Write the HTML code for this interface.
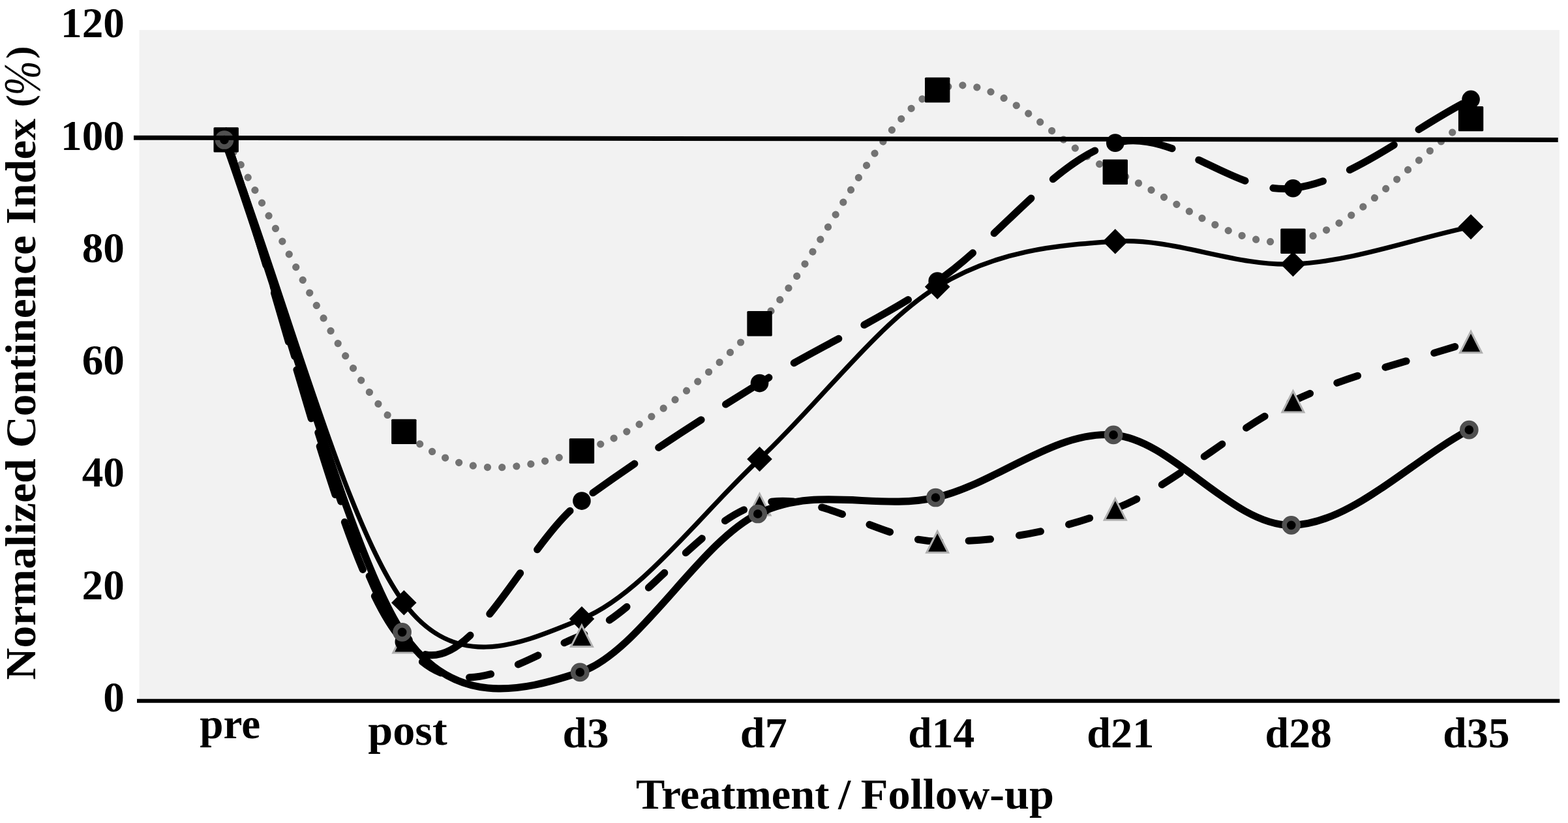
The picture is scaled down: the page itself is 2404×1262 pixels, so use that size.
<!DOCTYPE html>
<html lang="en"><head><meta charset="utf-8"><title>Normalized Continence Index</title>
<style>html,body{margin:0;padding:0;background:#fff;}body{width:2404px;height:1262px;overflow:hidden;}svg{display:block;}text{font-family:"Liberation Serif",serif;font-weight:bold;fill:#000;}</style></head><body>
<svg width="2404" height="1262" viewBox="0 0 2404 1262">
<rect x="0" y="0" width="2404" height="1262" fill="#fff"/>
<rect x="213.5" y="46" width="2177.3" height="1029" fill="#f2f2f2"/>
<line x1="210" y1="1074.7" x2="2391.3" y2="1074.7" stroke="#000" stroke-width="6"/>
<g id="series-diamonds">
<path d="M346.67 214.40 C437.55 451.03 528.42 801.85 619.30 924.30 C700.87 1034.21 801.05 985.82 891.93 949.10 C982.81 912.38 1073.68 788.91 1164.56 704.00 C1255.44 619.09 1346.31 495.28 1437.19 439.65 C1528.07 384.02 1618.94 375.97 1709.82 370.20 C1800.70 364.43 1891.57 408.73 1982.45 405.00 C2073.33 401.27 2164.20 366.90 2255.08 347.85" fill="none" stroke="#000" stroke-width="7.2" stroke-linejoin="round"/>
<path d="M346.67 195.10 l19.3 19.3 l-19.3 19.3 l-19.3 -19.3 z" fill="#000"/>
<path d="M619.30 905.00 l19.3 19.3 l-19.3 19.3 l-19.3 -19.3 z" fill="#000"/>
<path d="M891.93 929.80 l19.3 19.3 l-19.3 19.3 l-19.3 -19.3 z" fill="#000"/>
<path d="M1164.56 684.70 l19.3 19.3 l-19.3 19.3 l-19.3 -19.3 z" fill="#000"/>
<path d="M1437.19 420.35 l19.3 19.3 l-19.3 19.3 l-19.3 -19.3 z" fill="#000"/>
<path d="M1709.82 350.90 l19.3 19.3 l-19.3 19.3 l-19.3 -19.3 z" fill="#000"/>
<path d="M1982.45 385.70 l19.3 19.3 l-19.3 19.3 l-19.3 -19.3 z" fill="#000"/>
<path d="M2255.08 328.55 l19.3 19.3 l-19.3 19.3 l-19.3 -19.3 z" fill="#000"/>
</g>
<g id="series-triangles">
<path d="M346.67 214.40 C437.55 470.93 528.42 857.35 619.30 984.00 C698.82 1094.82 801.05 1009.50 891.93 974.30 C982.81 939.10 1073.68 796.82 1164.56 772.80 C1255.44 748.78 1346.31 828.96 1437.19 830.20 C1528.07 831.44 1618.94 816.13 1709.82 780.25 C1800.70 744.37 1891.57 657.66 1982.45 614.90 C2073.33 572.14 2164.20 554.10 2255.08 523.70" fill="none" stroke="#000" stroke-width="11.13" stroke-linecap="round" stroke-dasharray="33.39 44.52" stroke-dashoffset="-3"/>
<path d="M346.67 199.00 l16.5 32.5 h-33 z" fill="#000" stroke="#b0b0b0" stroke-width="3" stroke-linejoin="miter"/>
<path d="M619.30 968.60 l16.5 32.5 h-33 z" fill="#000" stroke="#b0b0b0" stroke-width="3" stroke-linejoin="miter"/>
<path d="M891.93 958.90 l16.5 32.5 h-33 z" fill="#000" stroke="#b0b0b0" stroke-width="3" stroke-linejoin="miter"/>
<path d="M1164.56 757.40 l16.5 32.5 h-33 z" fill="#000" stroke="#b0b0b0" stroke-width="3" stroke-linejoin="miter"/>
<path d="M1437.19 814.80 l16.5 32.5 h-33 z" fill="#000" stroke="#b0b0b0" stroke-width="3" stroke-linejoin="miter"/>
<path d="M1709.82 764.85 l16.5 32.5 h-33 z" fill="#000" stroke="#b0b0b0" stroke-width="3" stroke-linejoin="miter"/>
<path d="M1982.45 599.50 l16.5 32.5 h-33 z" fill="#000" stroke="#b0b0b0" stroke-width="3" stroke-linejoin="miter"/>
<path d="M2255.08 508.30 l16.5 32.5 h-33 z" fill="#000" stroke="#b0b0b0" stroke-width="3" stroke-linejoin="miter"/>
</g>
<g id="series-squares">
<path d="M346.67 214.40 C437.55 363.57 528.42 582.39 619.30 661.90 C710.18 741.41 801.05 719.07 891.93 691.45 C982.81 663.83 1073.68 588.43 1164.56 496.20 C1255.44 403.97 1346.31 176.79 1437.19 138.05 C1528.07 99.31 1618.94 225.12 1709.82 263.75 C1800.70 302.38 1891.57 383.41 1982.45 369.80 C2073.33 356.19 2164.20 244.67 2255.08 182.10" fill="none" stroke="#737373" stroke-width="11.2" stroke-linecap="round" stroke-dasharray="0.01 22.25"/>
<rect x="327.47" y="195.20" width="38.4" height="38.4" rx="1.5" fill="#000"/>
<rect x="600.10" y="642.70" width="38.4" height="38.4" rx="1.5" fill="#000"/>
<rect x="872.73" y="672.25" width="38.4" height="38.4" rx="1.5" fill="#000"/>
<rect x="1145.36" y="477.00" width="38.4" height="38.4" rx="1.5" fill="#000"/>
<rect x="1417.99" y="118.85" width="38.4" height="38.4" rx="1.5" fill="#000"/>
<rect x="1690.62" y="244.55" width="38.4" height="38.4" rx="1.5" fill="#000"/>
<rect x="1963.25" y="350.60" width="38.4" height="38.4" rx="1.5" fill="#000"/>
<rect x="2235.88" y="162.90" width="38.4" height="38.4" rx="1.5" fill="#000"/>
</g>
<g id="series-circles">
<path d="M346.67 214.40 C437.55 470.93 528.42 891.72 619.30 984.00 C710.18 1076.28 801.05 834.17 891.93 768.10 C982.81 702.03 1073.68 643.78 1164.56 587.60 C1255.44 531.42 1346.31 492.41 1437.19 431.00 C1528.07 369.59 1618.94 242.87 1709.82 219.15 C1800.70 195.43 1891.57 299.82 1982.45 288.70 C2073.33 277.57 2164.20 197.83 2255.08 152.40" fill="none" stroke="#000" stroke-width="11.13" stroke-linecap="round" stroke-dasharray="77.91 44.52" stroke-dashoffset="-1.5"/>
<circle cx="346.67" cy="214.40" r="13.8" fill="#000"/>
<circle cx="619.30" cy="984.00" r="13.8" fill="#000"/>
<circle cx="891.93" cy="768.10" r="13.8" fill="#000"/>
<circle cx="1164.56" cy="587.60" r="13.8" fill="#000"/>
<circle cx="1437.19" cy="431.00" r="13.8" fill="#000"/>
<circle cx="1709.82" cy="219.15" r="13.8" fill="#000"/>
<circle cx="1982.45" cy="288.70" r="13.8" fill="#000"/>
<circle cx="2255.08" cy="152.40" r="13.8" fill="#000"/>
</g>
<g id="series-rings">
<path d="M343.95 214.50 C434.83 466.10 538.96 853.09 616.58 969.30 C694.20 1085.51 798.33 1061.12 889.21 1030.90 C980.09 1000.68 1070.96 832.65 1161.84 788.00 C1252.72 743.35 1343.59 783.18 1434.47 763.00 C1525.35 742.82 1616.22 659.85 1707.10 666.90 C1797.98 673.95 1888.85 806.60 1979.73 805.30 C2070.61 804.00 2161.48 707.83 2252.36 659.10" fill="none" stroke="#000" stroke-width="11.13" stroke-linejoin="round"/>
<circle cx="343.95" cy="214.50" r="10.6" fill="#000" stroke="#505050" stroke-width="7.5"/>
<circle cx="616.58" cy="969.30" r="10.6" fill="#000" stroke="#505050" stroke-width="7.5"/>
<circle cx="889.21" cy="1030.90" r="10.6" fill="#000" stroke="#505050" stroke-width="7.5"/>
<circle cx="1161.84" cy="788.00" r="10.6" fill="#000" stroke="#505050" stroke-width="7.5"/>
<circle cx="1434.47" cy="763.00" r="10.6" fill="#000" stroke="#505050" stroke-width="7.5"/>
<circle cx="1707.10" cy="666.90" r="10.6" fill="#000" stroke="#505050" stroke-width="7.5"/>
<circle cx="1979.73" cy="805.30" r="10.6" fill="#000" stroke="#505050" stroke-width="7.5"/>
<circle cx="2252.36" cy="659.10" r="10.6" fill="#000" stroke="#505050" stroke-width="7.5"/>
</g>
<line x1="205" y1="211.3" x2="2388.7" y2="214.5" stroke="#000" stroke-width="7"/>
<text x="158.25" y="1091.12" font-size="65.20" textLength="32.60" lengthAdjust="spacingAndGlyphs">0</text>
<text x="125.64" y="918.80" font-size="65.20" textLength="65.20" lengthAdjust="spacingAndGlyphs">20</text>
<text x="125.65" y="746.48" font-size="65.20" textLength="65.20" lengthAdjust="spacingAndGlyphs">40</text>
<text x="125.65" y="574.16" font-size="65.20" textLength="65.20" lengthAdjust="spacingAndGlyphs">60</text>
<text x="125.65" y="401.84" font-size="65.20" textLength="65.20" lengthAdjust="spacingAndGlyphs">80</text>
<text x="93.05" y="229.52" font-size="65.20" textLength="97.80" lengthAdjust="spacingAndGlyphs">100</text>
<text x="93.05" y="57.20" font-size="65.20" textLength="97.80" lengthAdjust="spacingAndGlyphs">120</text>
<text x="306.29" y="1132.00" font-size="66.00" textLength="92.80" lengthAdjust="spacingAndGlyphs">pre</text>
<text x="564.35" y="1142.30" font-size="66.00" textLength="121.25" lengthAdjust="spacingAndGlyphs">post</text>
<text x="862.61" y="1146.30" font-size="65.20" textLength="71.02" lengthAdjust="spacingAndGlyphs">d3</text>
<text x="1134.77" y="1146.30" font-size="65.20" textLength="72.12" lengthAdjust="spacingAndGlyphs">d7</text>
<text x="1392.38" y="1146.30" font-size="65.20" textLength="101.84" lengthAdjust="spacingAndGlyphs">d14</text>
<text x="1666.15" y="1146.30" font-size="65.20" textLength="103.21" lengthAdjust="spacingAndGlyphs">d21</text>
<text x="1939.57" y="1146.30" font-size="65.20" textLength="102.35" lengthAdjust="spacingAndGlyphs">d28</text>
<text x="2212.37" y="1146.30" font-size="65.20" textLength="102.27" lengthAdjust="spacingAndGlyphs">d35</text>
<text font-size="66.40" ><tspan x="975.00" y="1239.80" textLength="296.43" lengthAdjust="spacingAndGlyphs">Treatment</tspan> <tspan x="1285.38" y="1239.80" textLength="18.96" lengthAdjust="spacingAndGlyphs">/</tspan> <tspan x="1319.80" y="1239.80" textLength="296.24" lengthAdjust="spacingAndGlyphs">Follow-up</tspan></text>
<text font-size="66.40" transform="translate(54.4 1041.2) rotate(-90)"><tspan x="-1.36" y="0.00" textLength="339.42" lengthAdjust="spacingAndGlyphs">Normalized</tspan> <tspan x="354.43" y="0.00" textLength="325.60" lengthAdjust="spacingAndGlyphs">Continence</tspan> <tspan x="697.15" y="0.00" textLength="162.11" lengthAdjust="spacingAndGlyphs">Index</tspan> <tspan x="876.86" y="-5.70" textLength="18.81" lengthAdjust="spacingAndGlyphs" font-size="57.30">(</tspan><tspan x="894.61" y="7.00" textLength="53.41" lengthAdjust="spacingAndGlyphs" font-style="italic" font-weight="normal" font-size="80.00">%</tspan><tspan x="951.31" y="-5.70" textLength="19.40" lengthAdjust="spacingAndGlyphs" font-size="57.30">)</tspan></text>
</svg></body></html>
